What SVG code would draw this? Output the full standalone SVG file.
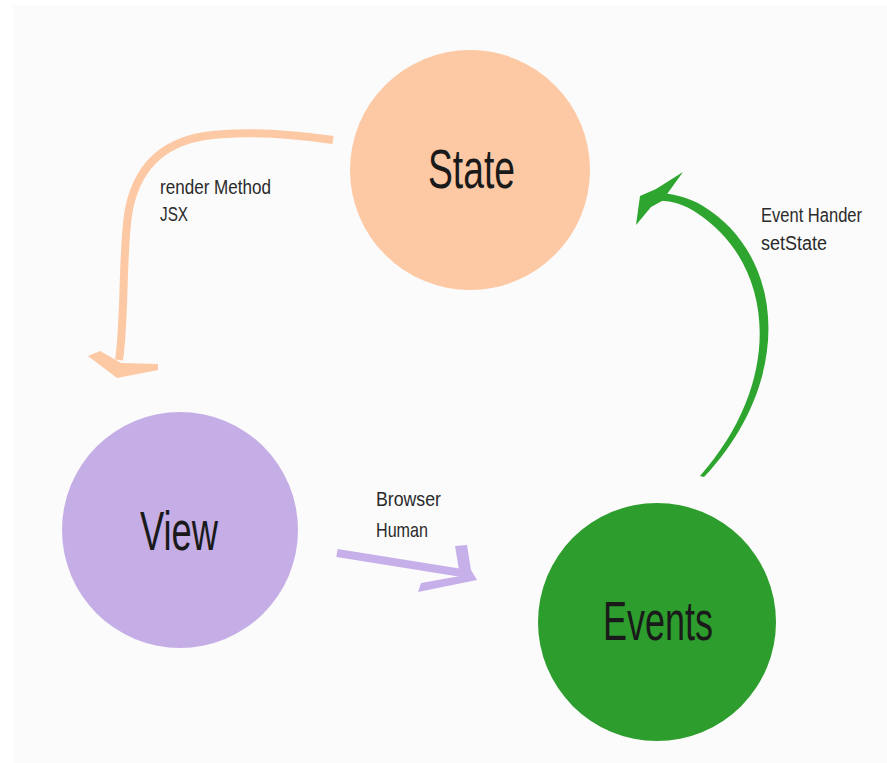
<svg xmlns="http://www.w3.org/2000/svg" width="887" height="763" viewBox="0 0 887 763">
<style>
.big{font-family:"Liberation Sans",Arial,sans-serif;font-size:56px;fill:#1a1a1a;}
.lbl{font-family:"Liberation Sans",Arial,sans-serif;font-size:21px;fill:#2a2a2a;}
.lbl2{font-family:"Liberation Sans",Arial,sans-serif;font-size:20px;fill:#2a2a2a;}
</style>
<rect x="0" y="0" width="887" height="763" fill="#ffffff"/>
<rect x="13" y="5" width="874" height="758" fill="#fbfbfb"/>
<g id="connectors">
  <g id="render-arrow" fill="#fcc9a4" stroke="#fcc9a4">
    <path d="M333 140 C290 134 240 131 205 136 C160 143 135 170 128 215 C122 260 125 320 119 360" fill="none" stroke-width="8"/>
    <polygon points="88,356 100,351 121,363 158,364 158,370 117,378" stroke="none"/>
  </g>
  <g id="human-arrow" fill="#c7b0ea" stroke="#c7b0ea">
    <path d="M337 553 L462 573" fill="none" stroke-width="8"/>
    <polygon points="455,546 467,545 471,570 477,580 418,592 421,583 460,576" stroke="none"/>
  </g>
  <g id="setstate-arrow" fill="#2ea52e">
    <path d="M704 477 C795 380 785 256 703 206 C688 197 672 193 655 193 L655 201 C670 200 683 204 697 213 C775 264 785 380 700 476 Z"/>
    <polygon points="683,172 656,189 640,196 636,225 651,207 662,201"/>
  </g>
</g>
<g id="state">
  <circle cx="470" cy="170" r="120" fill="#fdc9a5"/>
  <text class="big" x="428" y="188" textLength="87" lengthAdjust="spacingAndGlyphs">State</text>
</g>
<g id="view">
  <circle cx="180" cy="530" r="118" fill="#c5aee6"/>
  <text class="big" x="140" y="550" textLength="78" lengthAdjust="spacingAndGlyphs">View</text>
</g>
<g id="events">
  <circle cx="657" cy="622" r="119" fill="#2d9e2d"/>
  <text class="big" x="603" y="640" textLength="110" lengthAdjust="spacingAndGlyphs">Events</text>
</g>
<g id="labels">
  <text class="lbl" x="160" y="194" textLength="111" lengthAdjust="spacingAndGlyphs">render Method</text>
  <text class="lbl" x="160" y="221" textLength="28" lengthAdjust="spacingAndGlyphs">JSX</text>
  <text class="lbl2" x="761" y="222" textLength="101" lengthAdjust="spacingAndGlyphs">Event Hander</text>
  <text class="lbl2" x="761" y="250" textLength="66" lengthAdjust="spacingAndGlyphs">setState</text>
  <text class="lbl" x="376" y="506" textLength="65" lengthAdjust="spacingAndGlyphs">Browser</text>
  <text class="lbl" x="376" y="537" textLength="52" lengthAdjust="spacingAndGlyphs">Human</text>
</g>
</svg>
